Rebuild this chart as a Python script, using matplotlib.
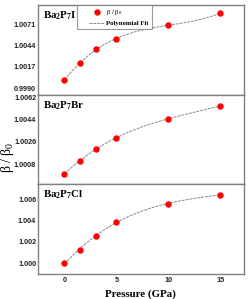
import numpy as np
import matplotlib
matplotlib.use("Agg")
import matplotlib.pyplot as plt
from matplotlib.legend_handler import HandlerLine2D

pressure = [0, 1.5, 3, 5, 10, 15]
ratio_I = [1.0000, 1.00222, 1.00393, 1.00520, 1.00702, 1.00851]
ratio_Br = [1.0000, 1.00107, 1.00204, 1.00288, 1.00448, 1.00551]
ratio_Cl = [1.0000, 1.00124, 1.00257, 1.00388, 1.00556, 1.00640]
labels = [r"Ba$_\mathbf{2}$P$_\mathbf{7}$I", r"Ba$_\mathbf{2}$P$_\mathbf{7}$Br",
          r"Ba$_\mathbf{2}$P$_\mathbf{7}$Cl"]
yticks_I = [0.9990, 1.0017, 1.0044, 1.0071]
yticks_Br = [1.0008, 1.0026, 1.0044, 1.0062]
yticks_Cl = [1.000, 1.002, 1.004, 1.006]
ylims = [(0.99811, 1.00957), (0.99918, 1.00639), (0.9990, 1.0074)]
xticks = [0, 5, 10, 15]

plt.rcParams['mathtext.fontset'] = 'custom'
plt.rcParams['mathtext.rm'] = 'Liberation Serif'
plt.rcParams['mathtext.it'] = 'Liberation Serif'
plt.rcParams['mathtext.bf'] = 'Liberation Serif:bold'

W, H = 249, 299
fig = plt.figure(figsize=(W/100, H/100), dpi=100)
left = 37.5 / W
width = (244 - 37.5) / W
panels = [(5, 95), (95, 184), (184, 274)]
series = [ratio_I, ratio_Br, ratio_Cl]
ytks = [yticks_I, yticks_Br, yticks_Cl]
fmts = ["%.4f", "%.4f", "%.3f"]
spine_col = "#808080"

xfine = np.linspace(0, 15, 200)
for i, (top, bot) in enumerate(panels):
    ax = fig.add_axes([left, 1 - bot / H, width, (bot - top) / H])
    y = np.array(series[i])
    coef = np.polyfit(pressure, y, 3)
    ax.plot(xfine, np.polyval(coef, xfine), color="#8a8a8a", lw=0.7,
            ls=(0, (3, 1)), label="Polynomial Fit", zorder=2)
    ax.plot(pressure, y, 'o', color="#ff0000", ms=3.6, mec="#ff0000",
            label=r"$\beta$ / $\beta_0$", zorder=3, ls="none")
    ax.set_xlim(-2.6, 17.3)
    ax.set_ylim(*ylims[i])
    ax.set_yticks(ytks[i])
    ax.set_yticklabels([fmts[i] % v for v in ytks[i]], family="Liberation Sans",
                       fontsize=5.2, fontweight="bold", color="#222222")
    ax.set_xticks(xticks)
    ax.tick_params(length=0, pad=1.0)
    if i < 2:
        ax.set_xticklabels([])
    else:
        ax.set_xticklabels([str(v) for v in xticks], family="Liberation Sans",
                           fontsize=5.2, fontweight="bold", color="#222222")
        ax.tick_params(axis='x', pad=2)
        ax.set_xlabel("Pressure (GPa)", family="Liberation Serif",
                      fontweight="bold", fontsize=7.8, labelpad=4)
    for s in ax.spines.values():
        s.set_color(spine_col)
        s.set_linewidth(1.0)
    ax.text(0.025, 0.95, labels[i], transform=ax.transAxes, ha="left", va="top",
            family="Liberation Serif", fontweight="bold", fontsize=7.8)
    if i == 0:
        h, l = ax.get_legend_handles_labels()
        h, l = h[::-1], l[::-1]
        leg = ax.legend(h, l, loc="upper left",
                        bbox_to_anchor=(0.191, 1.0), borderaxespad=0,
                        prop={"family": "Liberation Serif", "weight": "bold", "size": 4.9},
                        frameon=True, fancybox=False, handlelength=3.5,
                        handler_map={hh: HandlerLine2D(xpad=1.3) for hh in h},
                        borderpad=0.5, labelspacing=0.43, handletextpad=0.3)
        leg.get_frame().set_edgecolor(spine_col)
        leg.get_frame().set_linewidth(0.8)

fig.text(7 / W, 1 - 157 / H, r"$\beta$ / $\beta_0$", rotation=90, ha="center",
         va="center", family="Liberation Serif", fontsize=10)

fig.savefig("out.png", dpi=100)
